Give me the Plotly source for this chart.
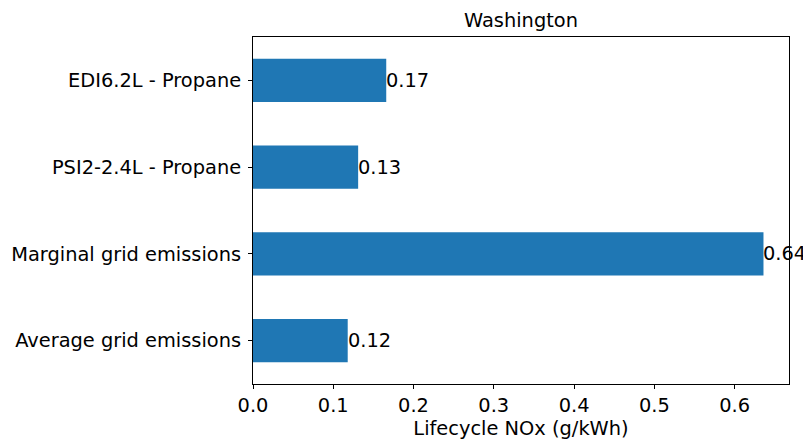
import plotly.graph_objects as go

categories = ["Average grid emissions", "Marginal grid emissions", "PSI2-2.4L - Propane", "EDI6.2L - Propane"]
values = [0.118, 0.636, 0.131, 0.166]
labels = [f"{v:.2f}" for v in values]
x_ticks = [0.0, 0.1, 0.2, 0.3, 0.4, 0.5, 0.6]

FONT = "DejaVu Sans"
FS = 19.4
PAGE = 8  # default body margin of the html page

fig = go.Figure()
fig.add_trace(go.Bar(
    y=list(range(len(categories))), x=values, orientation="h", width=0.5,
    marker=dict(color="#1f77b4", line=dict(width=0)),
    showlegend=False,
))
for i, (v, t) in enumerate(zip(values, labels)):
    fig.add_annotation(x=v, y=i, text=t, xref="x", yref="y", xanchor="left", yanchor="middle",
                       showarrow=False, font=dict(family=FONT, size=FS, color="black"), xshift=-2)

fig.update_layout(
    width=811 - PAGE, height=440 - PAGE,
    margin=dict(l=253 - PAGE, r=22, t=37 - PAGE, b=56),
    paper_bgcolor="white", plot_bgcolor="white",
    font=dict(family=FONT, size=FS, color="black"),
    title=dict(text="Washington", x=0.5, xref="paper", xanchor="center",
               y=1 - (20 - PAGE) / (440 - PAGE), yref="container", yanchor="middle",
               font=dict(family=FONT, size=FS, color="black")),
    xaxis=dict(range=[0, 0.636 * 1.05], tickvals=x_ticks, ticktext=[f"{t:.1f}" for t in x_ticks],
               ticks="outside", ticklen=4, tickcolor="black", showgrid=False, zeroline=False,
               showline=True, linecolor="black", linewidth=1, mirror=True, ticklabelstandoff=0,
               automargin=False,
               title=dict(text="Lifecycle NOx (g/kWh)", standoff=10,
                          font=dict(family=FONT, size=FS, color="black")),
               tickfont=dict(family=FONT, size=FS, color="black")),
    yaxis=dict(range=[-0.5, 3.5], tickvals=list(range(len(categories))), ticktext=categories,
               ticks="outside", ticklen=4, tickcolor="black", showgrid=False, zeroline=False,
               showline=True, linecolor="black", linewidth=1, mirror=True, ticklabelstandoff=3,
               automargin=False,
               tickfont=dict(family=FONT, size=FS, color="black")),
)

fig.write_html("out.html")
